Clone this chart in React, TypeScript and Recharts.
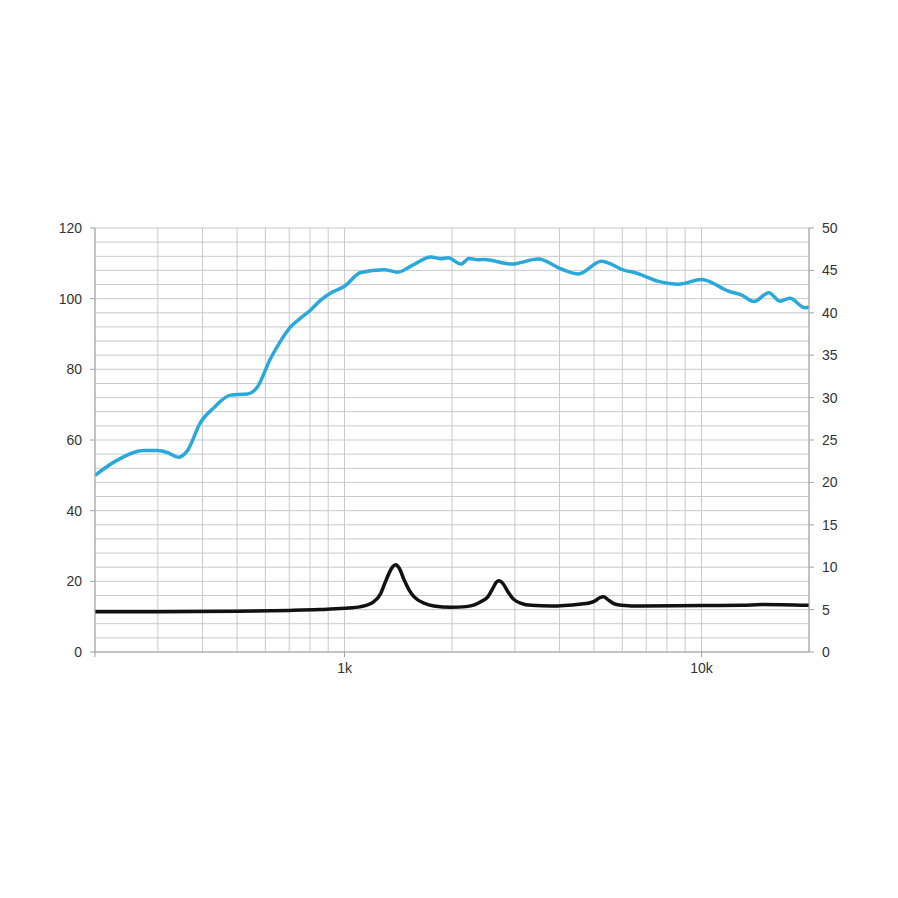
import React from 'react';
import { ComposedChart, Line, XAxis, YAxis, CartesianGrid } from 'recharts';

// frequency response (dB, left axis)
const splFreq = [
  200, 231, 273, 300, 320, 342, 363, 394, 429, 479, 535, 570, 620, 662, 706, 753, 804, 857, 915,
  1000, 1110, 1288, 1411, 1534, 1746, 1863, 1949, 2120, 2232, 2366, 2460, 2930, 3488, 4048, 4518,
  5242, 6084, 6490, 7582, 8626, 10000, 11926, 12968, 14012, 15442, 16576, 17686, 19490, 20000,
];
const splDb = [
  50, 54.3, 57.0, 57.0, 56.4, 55.1, 57.0, 64.8, 69.0, 72.7, 73.0, 75.0, 83.0, 88.0, 92.0, 94.5, 96.8, 99.6, 101.6,
  103.5, 107.4, 108.2, 107.5, 109.2, 111.8, 111.3, 111.6, 109.8, 111.4, 111.0, 111.1, 109.8, 111.2, 108.4, 107.0,
  110.6, 108.0, 107.4, 104.9, 104.1, 105.4, 102.1, 101.0, 99.2, 101.7, 99.3, 100.1, 97.4, 97.7,
];

// impedance (ohm, right axis)
const impFreq = [
  200, 300, 500, 700, 850, 1000, 1110, 1208, 1263, 1291, 1333, 1363, 1392, 1422, 1469, 1517, 1567, 1672,
  1780, 1988, 2190, 2310, 2413, 2520, 2602, 2659, 2710, 2776, 2868, 2962, 3126, 3334, 3794,
  4608, 4810, 5020, 5186, 5313, 5476, 5714, 5969, 6790, 10000, 12968, 14760, 20000,
];
const impOhm = [
  4.75, 4.75, 4.8, 4.9, 5.0, 5.15, 5.35, 5.95, 6.9, 7.9, 9.3, 10.05, 10.3, 9.9, 8.5, 7.3, 6.5, 5.75,
  5.42, 5.27, 5.35, 5.55, 5.95, 6.5, 7.5, 8.2, 8.4, 8.1, 7.1, 6.3, 5.74, 5.5, 5.42,
  5.66, 5.75, 6.0, 6.4, 6.52, 6.15, 5.66, 5.52, 5.42, 5.48, 5.5, 5.6, 5.5,
];

const xGridTicks = [
  200, 300, 400, 500, 600, 700, 800, 900, 1000, 2000, 3000, 4000, 5000, 6000, 7000, 8000, 9000, 10000, 20000,
];
const xLabelled = [200, 1000, 10000];
const leftGridTicks = [
  0, 4, 8, 12, 16, 20, 24, 28, 32, 36, 40, 44, 48, 52, 56, 60, 64, 68, 72, 76, 80, 84, 88, 92, 96, 100, 104, 108, 112, 116, 120,
];
const rightTicks = [0, 5, 10, 15, 20, 25, 30, 35, 40, 45, 50];

const splData = splFreq.map((f, i) => ({ f, v: splDb[i] }));
const impData = impFreq.map((f, i) => ({ f, v: impOhm[i] }));

const AXIS = '#a3a3a3';
const TEXT = '#333333';
const FONT = '"Liberation Sans", Arial, sans-serif';

function xLabel(v: number) {
  if (v === 1000) return '1k';
  if (v === 10000) return '10k';
  return '';
}

function XTick(props: any) {
  const { x, y, payload } = props;
  const ay = y - 15;
  const v = payload.value;
  if (!xLabelled.includes(v)) return <g />;
  return (
    <g>
      <line x1={x} x2={x} y1={ay} y2={ay + 5} stroke={AXIS} />
      <text x={x} y={ay + 21} textAnchor="middle" fill={TEXT} fontSize={14} fontFamily={FONT}>
        {xLabel(v)}
      </text>
    </g>
  );
}

function LeftTick(props: any) {
  const { x, y, payload } = props;
  const ax = x + 15;
  const v = payload.value;
  if (v % 20 !== 0) return <g />;
  return (
    <g>
      <line x1={ax - 5} x2={ax} y1={y} y2={y} stroke={AXIS} />
      <text x={ax - 13} y={y + 5} textAnchor="end" fill={TEXT} fontSize={14} fontFamily={FONT}>
        {v}
      </text>
    </g>
  );
}

function RightTick(props: any) {
  const { x, y, payload } = props;
  const ax = x - 15;
  return (
    <g>
      <line x1={ax} x2={ax + 5} y1={y} y2={y} stroke={AXIS} />
      <text x={ax + 13} y={y + 5} textAnchor="start" fill={TEXT} fontSize={14} fontFamily={FONT}>
        {payload.value}
      </text>
    </g>
  );
}

export default function App() {
  return (
    <div style={{ position: 'absolute', left: 0, top: 0, width: 898, height: 898, background: '#fff' }}>
      <ComposedChart width={898} height={898} margin={{ top: 228, right: 49, bottom: 216, left: 55 }}>
        <CartesianGrid stroke="#c9c9c9" yAxisId="l" />
        <XAxis
          dataKey="f"
          type="number"
          scale="log"
          domain={[200, 20000]}
          ticks={xGridTicks}
          interval={0}
          allowDataOverflow
          tick={XTick}
          tickLine={false}
          tickSize={5}
          tickMargin={10}
          axisLine={{ stroke: AXIS }}
          height={30}
        />
        <YAxis
          yAxisId="l"
          type="number"
          domain={[0, 120]}
          ticks={leftGridTicks}
          interval={0}
          tick={LeftTick}
          tickLine={false}
          tickSize={5}
          tickMargin={10}
          axisLine={{ stroke: AXIS }}
          width={40}
        />
        <YAxis
          yAxisId="r"
          orientation="right"
          type="number"
          domain={[0, 50]}
          ticks={rightTicks}
          interval={0}
          tick={RightTick}
          tickLine={false}
          tickSize={5}
          tickMargin={10}
          axisLine={{ stroke: AXIS }}
          width={40}
        />
        <Line
          data={splData}
          dataKey="v"
          yAxisId="l"
          type="monotone"
          stroke="#2aa8dc"
          strokeWidth={3.5}
          dot={false}
          isAnimationActive={false}
        />
        <Line
          data={impData}
          dataKey="v"
          yAxisId="r"
          type="monotone"
          stroke="#111111"
          strokeWidth={3.5}
          dot={false}
          isAnimationActive={false}
        />
      </ComposedChart>
    </div>
  );
}
